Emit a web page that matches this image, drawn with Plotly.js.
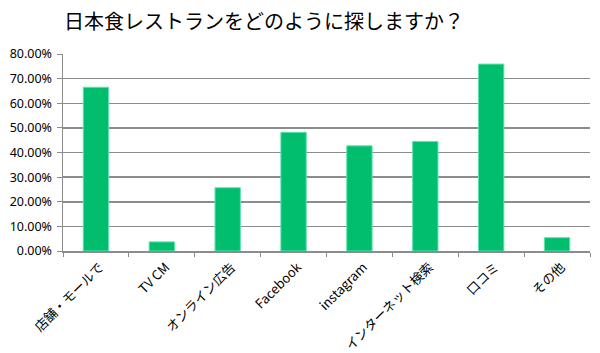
<!DOCTYPE html>
<html>
<head>
<meta charset="utf-8">
<script src="https://cdn.plot.ly/plotly-3.0.1.min.js"></script>
<style>html,body{margin:0;padding:0;background:#fff;}#chart{width:600px;height:353px;}</style>
</head>
<body>
<div id="chart"></div>
<script>
const categories = ["店舗・モールで", "TV CM", "オンライン広告", "Facebook", "instagram", "インターネット検索", "口コミ", "その他"];
const values = [0.665, 0.037, 0.257, 0.482, 0.427, 0.445, 0.759, 0.054];
const yTickValues = [0, 0.1, 0.2, 0.3, 0.4, 0.5, 0.6, 0.7, 0.8];

const font = '"Noto Sans", "Noto Sans CJK JP", sans-serif';
const trace = {
  type: 'bar',
  x: categories,
  y: values,
  marker: {color: '#00BE6E', line: {color: '#5FE3AE', width: 1}},
  hoverinfo: 'skip'
};
const layout = {
  width: 600, height: 353,
  margin: {l: 63, r: 10, t: 54, b: 102},
  paper_bgcolor: '#ffffff', plot_bgcolor: '#ffffff',
  bargap: 0.615,
  showlegend: false,
  title: {
    text: '日本食レストランをどのように探しますか？',
    font: {family: '"Noto Sans CJK JP", sans-serif', size: 20, color: '#000'},
    x: 0.44, xanchor: 'center', xref: 'container',
    y: 0.937, yanchor: 'middle', yref: 'container'
  },
  xaxis: {
    type: 'category',
    tickson: 'boundaries',
    ticks: 'outside', ticklen: 4, tickcolor: '#8c8c8c', tickwidth: 1,
    showline: true, linecolor: '#8c8c8c', linewidth: 1.5,
    showgrid: false,
    tickangle: -45,
    ticklabelshift: 4,
    ticklabelstandoff: 2,
    tickfont: {family: '"Noto Sans CJK JP", sans-serif', size: 13, color: '#000'}
  },
  yaxis: {
    range: [0, 0.8],
    tickvals: yTickValues,
    tickformat: '.2%',
    ticks: 'outside', ticklen: 5, tickcolor: '#8c8c8c', tickwidth: 1,
    showline: true, linecolor: '#8c8c8c', linewidth: 1.5,
    showgrid: true, gridcolor: '#8c8c8c', gridwidth: 1.5,
    zeroline: false,
    ticklabelstandoff: 2,
    tickfont: {family: font, size: 12.5, color: '#000'}
  }
};
Plotly.newPlot('chart', [trace], layout, {displayModeBar: false, staticPlot: true});
</script>
</body>
</html>
